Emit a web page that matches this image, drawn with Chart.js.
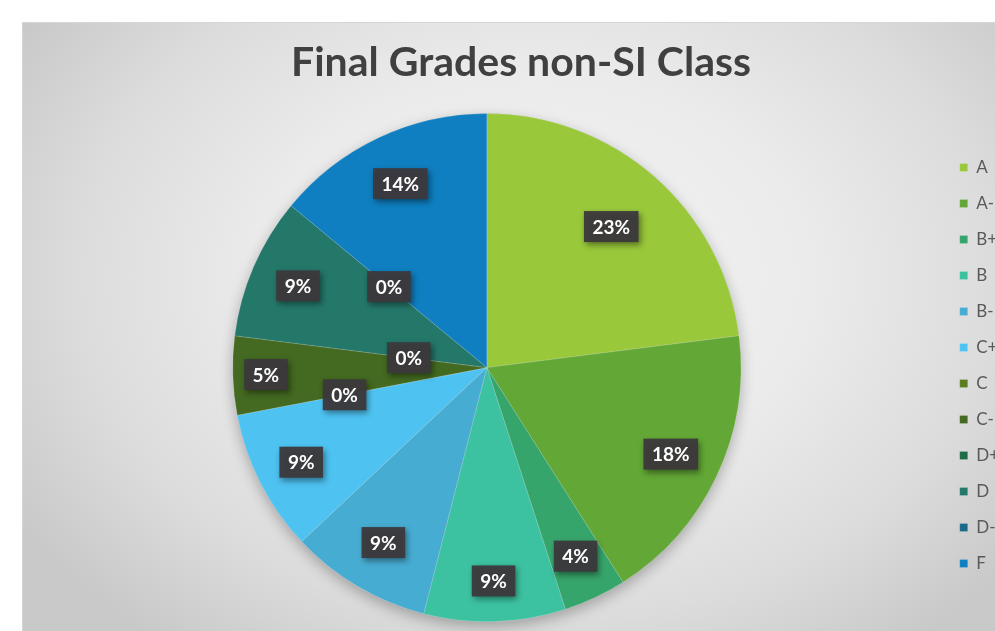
<!DOCTYPE html>
<html lang="en">
<head>
    <meta charset="UTF-8">
    <meta name="viewport" content="width=device-width, initial-scale=1.0">
    <title>Final Grades non-SI Class</title>
    <script src="https://cdn.jsdelivr.net/npm/chart.js"></script>
    <style>
        html, body {
            margin: 0;
            padding: 0;
            background: #fff;
            overflow: hidden;
        }
        .chart-card {
            position: absolute;
            left: 22px;
            top: 22px;
            width: 986px;
            height: 609px;
            border-top: 1px solid #d6d6d6;
            border-left: 1px solid #d6d6d6;
            background: radial-gradient(ellipse 62% 75% at 52% 42%, #f4f4f4 0%, #ebebeb 45%, #dcdcdc 75%, #c9c9c9 100%);
        }
    </style>
</head>
<body>
    <div class="chart-card">
        <canvas id="gradesChart"></canvas>
    </div>
    <script>
        // grade categories and share of students (%)
        const grades = ['A', 'A-', 'B+', 'B', 'B-', 'C+', 'C', 'C-', 'D+', 'D', 'D-', 'F'];
        const shares = [23, 18, 4, 9, 9, 9, 0, 5, 0, 9, 0, 14];
        const sliceColors = ['#99c83b', '#63a836', '#36a56b', '#3cc2a0', '#47acd2', '#4ec3f2',
                             '#5b7d1e', '#436a20', '#1d6b47', '#24786a', '#1c6a8a', '#0f7fc1'];

        // how far out each label sits (fraction of radius), Excel pushed the 0% ones inward
        const labelReach = [0.74, 0.8, 0.82, 0.84, 0.8, 0.82, 0.57, 0.87, 0.31, 0.81, 0.5, 0.8];

        const pieShadow = {
            id: 'pieShadow',
            beforeDatasetsDraw(chart) {
                const arc = chart.getDatasetMeta(0).data[0];
                if (!arc) return;
                const ctx = chart.ctx;
                ctx.save();
                ctx.shadowColor = 'rgba(0,0,0,0.28)';
                ctx.shadowBlur = 14;
                ctx.shadowOffsetY = 5;
                ctx.fillStyle = '#bbbbbb';
                ctx.beginPath();
                ctx.arc(arc.x, arc.y, arc.outerRadius, 0, Math.PI * 2);
                ctx.fill();
                ctx.restore();
            }
        };

        const pctLabels = {
            id: 'pctLabels',
            afterDatasetsDraw(chart) {
                const ctx = chart.ctx;
                const meta = chart.getDatasetMeta(0);
                ctx.save();
                ctx.font = 'bold 19px Lato';
                ctx.textAlign = 'center';
                ctx.textBaseline = 'middle';
                meta.data.forEach((arc, i) => {
                    const p = arc.getProps(['x', 'y', 'startAngle', 'endAngle', 'outerRadius'], true);
                    const mid = (p.startAngle + p.endAngle) / 2;
                    const r = p.outerRadius * labelReach[i];
                    const x = p.x + Math.cos(mid) * r;
                    const y = p.y + Math.sin(mid) * r;
                    const text = shares[i] + '%';
                    const w = ctx.measureText(text).width + 17;
                    const h = 31;
                    ctx.shadowColor = 'rgba(0,0,0,0.45)';
                    ctx.shadowBlur = 6;
                    ctx.shadowOffsetX = 2;
                    ctx.shadowOffsetY = 3;
                    ctx.fillStyle = 'rgba(60,57,60,0.95)';
                    ctx.fillRect(x - w / 2, y - h / 2, w, h);
                    ctx.shadowColor = 'transparent';
                    ctx.fillStyle = '#ffffff';
                    ctx.fillText(text, x, y + 1);
                });
                ctx.restore();
            }
        };

        const ctx = document.getElementById('gradesChart').getContext('2d');
        new Chart(ctx, {
            type: 'pie',
            data: {
                labels: grades,
                datasets: [{
                    data: shares,
                    backgroundColor: sliceColors,
                    borderColor: 'rgba(255,255,255,0.25)',
                    borderWidth: 0.6
                }]
            },
            options: {
                responsive: true,
                maintainAspectRatio: false,
                animation: false,
                layout: {
                    padding: { left: 10, right: 0, top: 0, bottom: 10 }
                },
                plugins: {
                    title: {
                        display: true,
                        text: 'Final Grades non-SI Class',
                        color: '#404040',
                        font: { family: 'Lato', size: 41, weight: 'bold' },
                        padding: { top: 15, bottom: 26 }
                    },
                    legend: {
                        position: 'right',
                        // empty legend title only used to push the items down
                        title: {
                            display: true,
                            text: ' ',
                            font: { size: 10 },
                            padding: { top: 74, bottom: 0 }
                        },
                        labels: {
                            boxWidth: 8,
                            boxHeight: 8,
                            padding: 19,
                            color: '#595959',
                            font: { family: 'Lato', size: 17 }
                        }
                    },
                    tooltip: { enabled: false }
                }
            },
            plugins: [pieShadow, pctLabels]
        });
    </script>
</body>
</html>
